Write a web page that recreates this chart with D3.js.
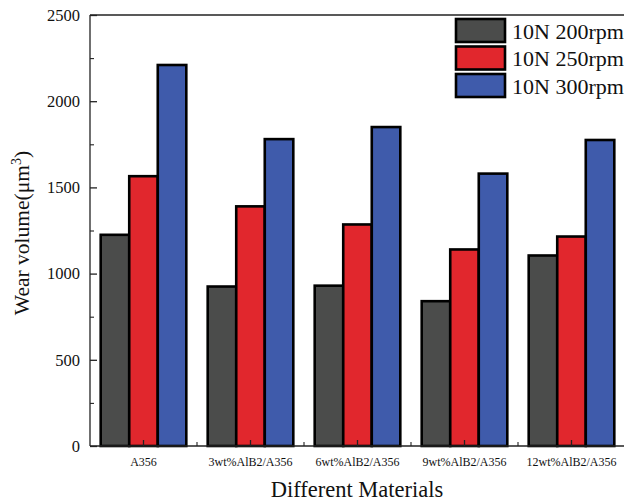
<!DOCTYPE html>
<html>
<head>
<meta charset="utf-8">
<script src="https://cdn.jsdelivr.net/npm/d3@7/dist/d3.min.js"></script>
<style>
  html, body { margin: 0; padding: 0; background: #fff; overflow: hidden; }
  svg { display: block; }
  text { font-family: "Liberation Serif", "Times New Roman", serif; fill: #111; }
</style>
</head>
<body>
<svg id="chart" width="624" height="501"></svg>
<script>
// Wear volume of A356 and AlB2/A356 composites at 10 N load
const materials = ["A356", "3wt%AlB2/A356", "6wt%AlB2/A356", "9wt%AlB2/A356", "12wt%AlB2/A356"];
const seriesNames = ["10N 200rpm", "10N 250rpm", "10N 300rpm"];
const rpm200 = [1225, 925, 930, 840, 1105];
const rpm250 = [1565, 1390, 1285, 1140, 1215];
const rpm300 = [2210, 1780, 1850, 1580, 1775];
const seriesColors = ["#4b4c4b", "#e1272d", "#3f5bab"];
const yTicks = [0, 500, 1000, 1500, 2000, 2500];

const values = [rpm200, rpm250, rpm300];
const svg = d3.select("#chart");
const margin = { left: 90, top: 15, bottom: 446 };
const plotRight = 625;

const x0 = d3.scaleBand().domain(materials).range([margin.left, plotRight]).paddingInner(0.2).paddingOuter(0.1);
const x1 = d3.scaleBand().domain(seriesNames).range([0, x0.bandwidth()]);
const y = d3.scaleLinear().domain([0, 2500]).range([margin.bottom, margin.top]);

// bars
const groups = svg.append("g").selectAll("g").data(materials).join("g")
  .attr("transform", d => `translate(${x0(d)},0)`);
groups.selectAll("rect")
  .data((m, i) => seriesNames.map((s, k) => ({ s, k, v: values[k][i] })))
  .join("rect")
  .attr("x", d => x1(d.s))
  .attr("y", d => y(d.v))
  .attr("width", x1.bandwidth())
  .attr("height", d => y(0) - y(d.v))
  .attr("fill", d => seriesColors[d.k])
  .attr("stroke", "#000")
  .attr("stroke-width", 2.6);

// frame lines: left axis, top border, bottom axis
svg.append("line").attr("x1", margin.left).attr("x2", margin.left).attr("y1", margin.top).attr("y2", margin.bottom).attr("stroke", "#222").attr("stroke-width", 1.3);
svg.append("line").attr("x1", margin.left).attr("x2", plotRight).attr("y1", margin.top).attr("y2", margin.top).attr("stroke", "#222").attr("stroke-width", 1.3);
svg.append("line").attr("x1", margin.left).attr("x2", plotRight).attr("y1", margin.bottom).attr("y2", margin.bottom).attr("stroke", "#222").attr("stroke-width", 1.3);

// y axis with inward ticks
const yAxis = svg.append("g").attr("transform", `translate(${margin.left},0)`)
  .call(d3.axisRight(y).tickValues(yTicks).tickSize(7).tickFormat(""));
yAxis.select(".domain").remove();
yAxis.selectAll("line").attr("stroke", "#222").attr("stroke-width", 1.3);
const yMinor = svg.append("g").attr("transform", `translate(${margin.left},0)`)
  .call(d3.axisRight(y).tickValues(d3.range(250, 2500, 500)).tickSize(4).tickFormat(""));
yMinor.select(".domain").remove();
yMinor.selectAll("line").attr("stroke", "#222").attr("stroke-width", 1.1);
svg.append("g").selectAll("text").data(yTicks).join("text")
  .attr("x", 80).attr("y", d => y(d)).attr("dy", "0.35em")
  .attr("text-anchor", "end").attr("font-size", 16.5).text(d => d);

// x axis ticks: major at group centers, minor between groups
const centers = materials.map(m => x0(m) + x0.bandwidth() / 2);
svg.append("g").selectAll("line").data(centers).join("line")
  .attr("x1", d => d).attr("x2", d => d).attr("y1", margin.bottom).attr("y2", margin.bottom - 6)
  .attr("stroke", "#222").attr("stroke-width", 1.3);
const step = x0.step();
svg.append("g").selectAll("line").data(materials.slice(1)).join("line")
  .attr("x1", d => x0(d) - step * x0.paddingInner() / 2).attr("x2", d => x0(d) - step * x0.paddingInner() / 2)
  .attr("y1", margin.bottom).attr("y2", margin.bottom - 4)
  .attr("stroke", "#222").attr("stroke-width", 1.1);
svg.append("g").selectAll("text").data(materials).join("text")
  .attr("x", (d, i) => centers[i]).attr("y", 466)
  .attr("text-anchor", "middle").attr("font-size", 12).text(d => d);

// axis titles
svg.append("text").attr("x", 357).attr("y", 497).attr("text-anchor", "middle").attr("font-size", 22.5).text("Different Materials");
const yTitle = svg.append("text").attr("transform", "translate(29,233) rotate(-90)")
  .attr("text-anchor", "middle").attr("font-size", 21.5);
yTitle.append("tspan").text("Wear volume(μm");
yTitle.append("tspan").attr("font-size", 14).attr("dy", -8).text("3");
yTitle.append("tspan").attr("dy", 8).text(")");

// legend
const legend = svg.append("g").selectAll("g").data(seriesNames).join("g")
  .attr("transform", (d, i) => `translate(456,${19 + i * 27.5})`);
legend.append("rect").attr("width", 49).attr("height", 23)
  .attr("fill", (d, i) => seriesColors[i]).attr("stroke", "#000").attr("stroke-width", 2.6);
legend.append("text").attr("x", 56).attr("y", 12).attr("dy", "0.35em")
  .attr("font-size", 22).text(d => d);
</script>
</body>
</html>
